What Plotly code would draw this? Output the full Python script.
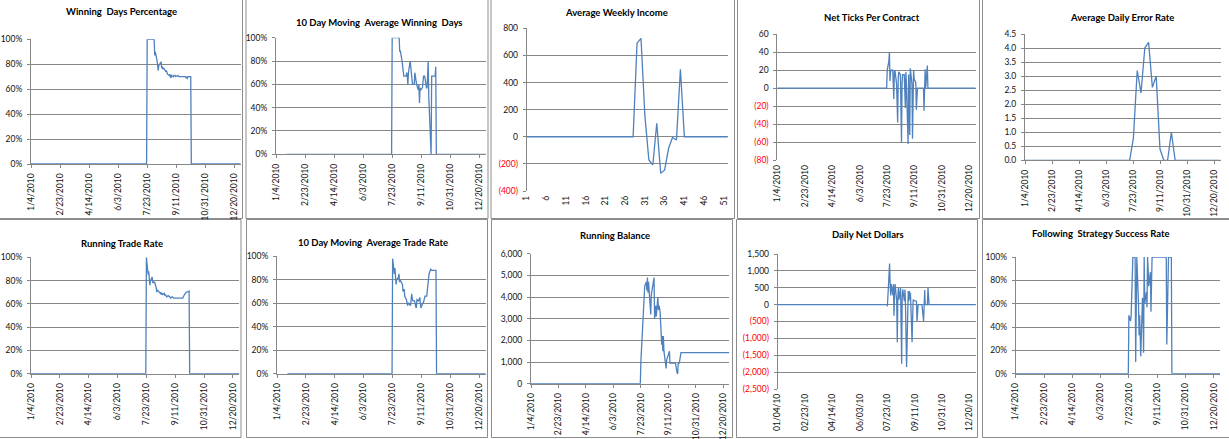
import pandas as pd
import plotly.graph_objects as go

W, H = 1229, 439

# ---------------- data ----------------
active_dates = [d.strftime("%Y-%m-%d") for d in pd.bdate_range("2010-07-22", "2010-10-07")]
year_start = "2010-01-04"
ma_start = "2010-01-22"
year_end = "2010-12-31"

date_tickvals = ["2010-01-04", "2010-02-23", "2010-04-14", "2010-06-03",
                 "2010-07-23", "2010-09-11", "2010-10-31", "2010-12-20"]
date_labels_long = ["1/4/2010", "2/23/2010", "4/14/2010", "6/3/2010",
                    "7/23/2010", "9/11/2010", "10/31/2010", "12/20/2010"]
date_labels_short = ["01/04/10", "02/23/10", "04/14/10", "06/03/10",
                     "07/23/10", "09/11/10", "10/31/10", "12/20/10"]

winning_days_pct = [0, 100, 100, 100, 100, 100, 100, 100, 100, 100,
                    87, 90, 83, 78, 75, 79, 80, 82, 77, 78,
                    76, 77, 75, 74, 75, 73, 72, 71, 72, 70,
                    69, 71, 70, 71, 71, 71, 70, 71, 71, 70,
                    70, 70, 70, 70, 70, 70, 70, 70, 69, 70,
                    68, 70, 70, 70, 70, 0]

ma_winning_days = [0, 100, 100, 100, 100, 100, 100, 100, 100, 100,
                   88, 89, 80, 73, 67, 67, 67, 67, 70, 67,
                   60, 70, 80, 75, 70, 70, 60, 60, 70, 67,
                   60, 60, 55, 60, 44, 57, 55, 57, 67, 67,
                   67, 67, 57, 57, 67, 80, 50, 0, 0, 67,
                   67, 67, 67, 67, 75, 0]

weeks = list(range(1, 53))
weekly_income = [0] * 28 + [690, 726, 150, -171, -208, 100, -270, -245, -85, -5, -24, 498] + [0] * 12

net_ticks = [0, 20, 30, 40, 8, 18, 20, 20, 5, -12,
             18, 20, 5, -20, -38, 10, 18, 15, -30, -60,
             5, 15, 15, 0, -22, 18, 5, -62, 15, -20,
             -52, 22, 5, -56, 0, 20, 10, 6, -24, 0,
             0, 0, 0, 0, 0, 0, 0, 0, -25, 5,
             21, 0, 25, 0, 0, 0]

error_dates = ["2010-01-04", "2010-07-16", "2010-07-23", "2010-07-30", "2010-08-06",
               "2010-08-13", "2010-08-20", "2010-08-27", "2010-09-03", "2010-09-10",
               "2010-09-17", "2010-09-24", "2010-10-01", "2010-10-08", "2010-12-31"]
error_rate = [0, 0, 0.8, 3.2, 2.4, 4.0, 4.2, 2.6, 3.0, 0.4, 0, 0, 1.0, 0, 0]

running_trade_rate = [0, 100, 85, 88, 80, 76, 80, 83, 78, 79,
                      78, 79, 74, 70, 72, 71, 71, 69, 70, 68,
                      69, 68, 69, 67, 68, 67, 66, 67, 66, 66,
                      66, 65, 66, 65, 65, 65, 65, 65, 65, 65,
                      65, 65, 65, 65, 65, 65, 65, 68, 69, 70,
                      70, 70, 71, 71, 0, 0]

ma_trade_rate = [0, 98, 85, 90, 82, 76, 80, 82, 85, 78,
                 80, 79, 76, 70, 72, 72, 66, 63, 60, 58,
                 60, 60, 58, 63, 68, 64, 62, 62, 58, 57,
                 56, 63, 62, 63, 65, 60, 56, 60, 60, 62,
                 66, 66, 66, 72, 80, 84, 85, 89, 88, 88,
                 88, 88, 88, 88, 88, 0]

running_balance = [0, 1000, 2500, 3000, 3200, 4000, 4500, 4700, 4300, 4900,
                   4200, 4700, 3800, 3200, 4100, 4300, 4300, 4900, 3000, 3400,
                   3600, 3100, 4000, 3400, 3600, 3500, 3300, 1800, 2200, 1500,
                   2200, 1500, 1000, 700, 1100, 1200, 1300, 1500, 950, 950,
                   950, 950, 950, 950, 950, 950, 950, 500, 450, 950,
                   950, 950, 1430, 1430, 1430, 1430]
balance_end = 1430

daily_net_dollars = [0, -50, 1000, 1220, 600, 270, 610, 270, 600, -330,
                     300, 610, 100, -1115, 200, 510, 150, 500, -600, -1755,
                     200, 450, 100, 450, 0, -900, -1850, 400, 100, 400,
                     150, 350, -1115, -400, 150, 120, 120, 100, 100, -490,
                     0, 0, 0, 0, 0, 0, 0, -490, -100, 430,
                     0, 0, 0, 510, 0, 0]

strategy_success = [0, 50, 45, 50, 66, 100, 100, 100, 100, 10,
                    100, 100, 60, 33, 50, 30, 15, 65, 55, 18,
                    100, 60, 70, 57, 100, 90, 75, 87, 53, 100,
                    100, 100, 100, 100, 100, 100, 100, 100, 100, 100,
                    100, 100, 100, 100, 100, 100, 100, 100, 25, 60,
                    100, 100, 100, 100, 100, 0]

pct_ticks = [0, 20, 40, 60, 80, 100]
income_ticks = [-400, -200, 0, 200, 400, 600, 800]
ticks_ticks = [-80, -60, -40, -20, 0, 20, 40, 60]
error_ticks = [0, 0.5, 1.0, 1.5, 2.0, 2.5, 3.0, 3.5, 4.0, 4.5]
balance_ticks = [0, 1000, 2000, 3000, 4000, 5000, 6000]
dollar_ticks = [-2500, -2000, -1500, -1000, -500, 0, 500, 1000, 1500]
week_ticks = [1, 6, 11, 16, 21, 26, 31, 36, 41, 46, 51]


def acct(v, fmt):
    s = format(abs(v), fmt)
    if v < 0:
        return '<span style="color:#ff0000">(' + s + ')</span>'
    return s


def daily(start, values, end_val=0):
    return [start] + active_dates + [year_end], [0] + values + [end_val]


# ---------------- panels ----------------
FONT = "Lato"
LINE = "#4F81BD"
GRID = "#878787"
TXT = "#111111"

panels = []
x, y = daily(year_start, winning_days_pct)
panels.append(dict(title="Winning\u00a0 Days Percentage", tx=121.7, ty=12, x=x, y=y,
                   px=(31, 240.7), py=(39.3, 164), yr=[0, 100], yt=pct_ticks,
                   ytt=[f"{v}%" for v in pct_ticks], xkind="date"))
x, y = daily(ma_start, ma_winning_days)
panels.append(dict(title="10 Day Moving\u00a0 Average Winning\u00a0 Days", tx=378.7, ty=22.3, x=x, y=y,
                   px=(276, 485.7), py=(37.7, 154.3), yr=[0, 100], yt=pct_ticks,
                   ytt=[f"{v}%" for v in pct_ticks], xkind="date"))
panels.append(dict(title="Average Weekly Income", tx=616, ty=13, x=weeks, y=weekly_income,
                   px=(526.7, 727.7), py=(28.3, 191), yr=[-400, 800], yt=income_ticks,
                   ytt=[acct(v, ",d") for v in income_ticks], xkind="week", zero=True))
x, y = daily(year_start, net_ticks)
panels.append(dict(title="Net Ticks Per Contract", tx=871.8, ty=17.3, x=x, y=y,
                   px=(777.3, 975.7), py=(34, 160.3), yr=[-80, 60], yt=ticks_ticks,
                   ytt=[acct(v, "d") for v in ticks_ticks], xkind="date", zero=True))
panels.append(dict(title="Average Daily Error Rate", tx=1122.2, ty=17.7, x=error_dates, y=error_rate,
                   px=(1025, 1220.7), py=(34, 160.3), yr=[0, 4.5], yt=error_ticks,
                   ytt=[f"{v:.1f}" for v in error_ticks], xkind="date"))
x, y = daily(year_start, running_trade_rate)
panels.append(dict(title="Running Trade Rate", tx=122.2, ty=243, x=x, y=y,
                   px=(31, 239.3), py=(257.3, 373.7), yr=[0, 100], yt=pct_ticks,
                   ytt=[f"{v}%" for v in pct_ticks], xkind="date"))
x, y = daily(ma_start, ma_trade_rate)
panels.append(dict(title="10 Day Moving\u00a0 Average Trade Rate", tx=372.7, ty=242, x=x, y=y,
                   px=(277, 485.7), py=(256.3, 373.7), yr=[0, 100], yt=pct_ticks,
                   ytt=[f"{v}%" for v in pct_ticks], xkind="date"))
x, y = daily(year_start, running_balance, balance_end)
panels.append(dict(title="Running Balance", tx=615, ty=235.7, x=x, y=y,
                   px=(531, 729.3), py=(253.7, 383.7), yr=[0, 6000], yt=balance_ticks,
                   ytt=[acct(v, ",d") for v in balance_ticks], xkind="date"))
x, y = daily(year_start, daily_net_dollars)
panels.append(dict(title="Daily Net Dollars", tx=867.5, ty=234.7, x=x, y=y,
                   px=(777.7, 975.7), py=(254, 389), yr=[-2500, 1500], yt=dollar_ticks,
                   ytt=[acct(v, ",d") for v in dollar_ticks], xkind="date_short", zero=True))
x, y = daily(year_start, strategy_success)
panels.append(dict(title="Following\u00a0 Strategy Success Rate", tx=1101, ty=233.7, x=x, y=y,
                   px=(1015.7, 1220), py=(257, 373.7), yr=[0, 100], yt=pct_ticks,
                   ytt=[f"{v}%" for v in pct_ticks], xkind="date"))

borders = [(-1, -1, 242.5, 218.5), (246, -1, 488, 218.5), (491, -1, 734.5, 218.5),
           (737.5, -1, 979.5, 218.5), (982.5, -1, 1230, 218.5),
           (-1, 219.5, 241, 437.5), (246.5, 219.5, 487.5, 437.5), (491.5, 219.5, 732.5, 437.5),
           (736.5, 219.5, 977.5, 437.5), (982.5, 219.5, 1230, 437.5)]

fig = go.Figure()
layout = {}
annotations = []
tickfont = dict(family=FONT, size=8.5, color=TXT)
n_panels = len(panels)

for i, p in enumerate(panels):
    n = i + 1
    xs = "" if n == 1 else str(n)
    fig.add_trace(go.Scatter(x=p["x"], y=p["y"], mode="lines",
                             line=dict(color=LINE, width=1.3),
                             xaxis="x" + xs, yaxis="y" + xs, hoverinfo="skip"))
    xd = [p["px"][0] / W, p["px"][1] / W]
    yd = [1 - p["py"][1] / H, 1 - p["py"][0] / H]
    crossing = p.get("zero", False)
    xa = dict(domain=xd, anchor="y" + xs, showgrid=False, zeroline=False,
              showline=not crossing, linecolor=GRID, linewidth=1,
              ticks="" if crossing else "outside", ticklen=3, tickcolor=GRID, tickangle=-90,
              tickfont=tickfont, fixedrange=True, automargin=False, ticklabelstandoff=2)
    if p["xkind"] == "week":
        xa.update(type="linear", range=[1, 52], tickvals=week_ticks,
                  ticktext=[str(v) for v in week_ticks])
    else:
        xa.update(type="date", range=[year_start, year_end], tickvals=date_tickvals,
                  ticktext=date_labels_short if p["xkind"] == "date_short" else date_labels_long)
    ya = dict(domain=yd, anchor="x" + xs, range=p["yr"], tickvals=p["yt"], ticktext=p["ytt"],
              showgrid=True, gridcolor=GRID, gridwidth=1, showline=True, linecolor=GRID,
              linewidth=1, ticks="outside", ticklen=3, tickcolor=GRID, tickfont=tickfont,
              zeroline=crossing, zerolinecolor=GRID, zerolinewidth=1,
              fixedrange=True, automargin=False, ticklabelstandoff=3)
    layout["xaxis" + xs] = xa
    layout["yaxis" + xs] = ya
    if crossing:
        # horizontal axis crosses at zero: tick marks on the zero line
        m = n_panels + n
        y0, y1 = p["yr"]
        zpos = yd[0] + (0 - y0) / (y1 - y0) * (yd[1] - yd[0])
        ov = dict(xa)
        ov.update(overlaying="x" + xs, anchor="free", position=zpos, showticklabels=False,
                  ticks="outside", ticklen=3, showline=False, matches="x" + xs)
        layout["xaxis" + str(m)] = ov
    annotations.append(dict(text=p["title"], x=p["tx"] / W, y=1 - p["ty"] / H,
                            xref="paper", yref="paper", showarrow=False,
                            xanchor="center", yanchor="middle",
                            font=dict(family=FONT, size=9.5, color="#000000", weight="bold")))

shapes = [dict(type="rect", xref="paper", yref="paper",
               x0=b[0] / W, x1=b[2] / W, y0=1 - b[3] / H, y1=1 - b[1] / H,
               line=dict(color="#8c8c8c", width=1), fillcolor="rgba(0,0,0,0)", layer="below")
          for b in borders]

fig.update_layout(width=W, height=H, margin=dict(l=0, r=0, t=0, b=0, autoexpand=False),
                  paper_bgcolor="white", plot_bgcolor="white", showlegend=False,
                  annotations=annotations, shapes=shapes, **layout)

fig.write_html("out.html", config={"displayModeBar": False, "staticPlot": True},
               post_script="document.body.style.margin='0';document.body.style.padding='0';"
                           "document.body.style.overflow='hidden';")
